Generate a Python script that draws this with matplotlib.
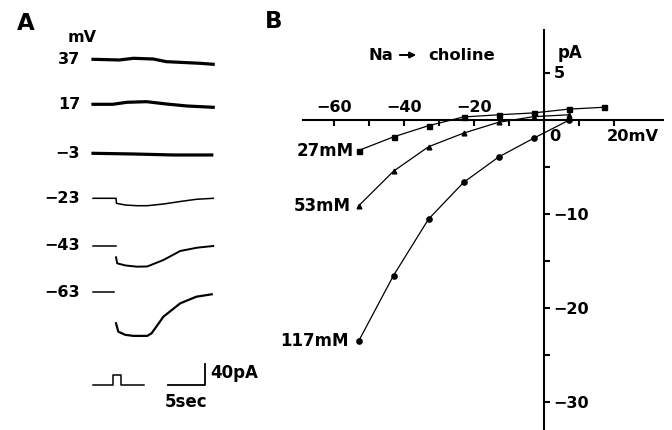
import matplotlib
matplotlib.use('Agg')
import matplotlib.pyplot as plt
from matplotlib.ticker import FixedLocator, NullFormatter

plt.rcParams['font.family'] = ['DejaVu Sans']
plt.rcParams['font.weight'] = 'bold'

# ---- panel B data: I-V relations (mV, pA) ----
voltages = [-53, -43, -33, -23, -13, -3, 7, 17]
i_27mM = [-3.3, -1.85, -0.66, 0.27, 0.5, 0.7, 1.1, 1.3]
i_53mM = [-9.2, -5.5, -2.9, -1.45, -0.3, 0.3, 0.5]
i_117mM = [-23.6, -16.6, -10.6, -6.7, -4.0, -2.0, -0.1]
curve_labels = ['27mM', '53mM', '117mM']

# ---- panel A data: current traces (time in s, current in pA) ----
hold_mV = ['37', '17', '\u22123', '\u221223', '\u221243', '\u221263']
t_37 = [0, 3.6, 5.5, 8.2, 10.0, 12.8, 14.6, 16.4]
i_37 = [0, -1.3, 1.9, 0.6, -4.5, -6.4, -7.6, -9.5]
t_17 = [0, 2.7, 4.6, 7.3, 10.0, 12.8, 16.4]
i_17 = [0, 0, 3.8, 5.0, 0.6, -3.2, -5.7]
t_m3 = [0, 5.5, 11.0, 16.2]
i_m3 = [0, -1.3, -3.2, -3.2]
t_m23 = [0, 3.14, 3.2, 4.4, 6.0, 7.4, 9.6, 11.9, 14.1, 16.4]
i_m23 = [0, 0, -9.5, -12.8, -14.1, -14.1, -10.9, -6.1, -1.9, 0]
t_m43_pre = [0, 3.1]
t_m43 = [3.14, 3.3, 4.4, 6.0, 7.4, 9.6, 11.9, 14.2, 16.4]
i_m43 = [-21.5, -33, -37, -39.4, -39, -26.7, -9.5, -3.2, 0]
t_m63_pre = [0, 2.8]
t_m63 = [3.14, 3.45, 4.4, 5.5, 7.4, 8.0, 9.6, 11.9, 14.1, 16.2]
i_m63 = [-59, -75, -81, -83, -83, -78, -46.5, -21, -8.4, -3.8]
# stimulus marker (s)
stim_t = [0, 2.77, 2.77, 3.78, 3.78, 6.9]
stim_y = [0, 0, 19, 19, 0, 0]
bar_t, bar_pA = 5, 40

# layout (pixels of the 672x430 figure)
W, H = 672, 430
PX_PER_S, PX_PER_PA = 7.33, 0.525
T0_PX = 93
base_px = [59.3, 104.3, 153.3, 198.3, 246, 292.3]
stim_base_px = 385

fig = plt.figure(figsize=(W / 100, H / 100), dpi=100)

# ---------------- panel A ----------------
axA = fig.add_axes([0, 0, 240 / W, 1])
axA.set_xlim(-T0_PX / PX_PER_S, (240 - T0_PX) / PX_PER_S)
axA.set_ylim(-H / PX_PER_PA, 0)
axA.axis('off')

def off(px):
    return -px / PX_PER_PA

axA.plot(t_37, [off(base_px[0]) + v for v in i_37], color='k', lw=2.3)
axA.plot(t_17, [off(base_px[1]) + v for v in i_17], color='k', lw=2.3)
axA.plot(t_m3, [off(base_px[2]) + v for v in i_m3], color='k', lw=2.3)
axA.plot(t_m23, [off(base_px[3]) + v for v in i_m23], color='k', lw=1.1)
axA.plot(t_m43_pre, [off(base_px[4])] * 2, color='k', lw=1.1)
axA.plot(t_m43, [off(base_px[4]) + v for v in i_m43], color='k', lw=1.4)
axA.plot(t_m63_pre, [off(base_px[5])] * 2, color='k', lw=1.1)
axA.plot(t_m63, [off(base_px[5]) + v for v in i_m63], color='k', lw=1.6)

axA.plot(stim_t, [off(stim_base_px) + v for v in stim_y], color='k', lw=1.1)
bx = (168.3 - T0_PX) / PX_PER_S
axA.plot([bx, bx + bar_t, bx + bar_t],
         [off(stim_base_px), off(stim_base_px), off(stim_base_px) + bar_pA],
         color='k', lw=1.3)

def ftext(x, y, s, **kw):
    fig.text(x / W, 1 - y / H, s, **kw)

ftext(17, 24, 'A', fontsize=16.5, va='center', ha='left')
ftext(82, 38, 'mV', fontsize=11.5, va='center', ha='center')
for lab, b in zip(hold_mV, base_px):
    ftext(80, b, lab, fontsize=11.5, va='center', ha='right')
ftext(210, 373, '40pA', fontsize=12, va='center', ha='left')
ftext(186, 402, '5sec', fontsize=12, va='center', ha='center')

# ---------------- panel B ----------------
X0_PX, Y0_PX = 544, 119.5
PX_PER_MV, PX_PER_PA_B = 3.5, 9.4
left_px, right_px, top_px = 303, 663, 29.5
ax = fig.add_axes([left_px / W, 0, (right_px - left_px) / W, (H - top_px) / H])
ax.set_xlim((left_px - X0_PX) / PX_PER_MV, (right_px - X0_PX) / PX_PER_MV)
ax.set_ylim((Y0_PX - H) / PX_PER_PA_B, (Y0_PX - top_px) / PX_PER_PA_B)
ax.patch.set_visible(False)

ax.spines['top'].set_visible(False)
ax.spines['left'].set_visible(False)
ax.spines['right'].set_position(('data', 0))
ax.spines['bottom'].set_position(('data', 0))
ax.spines['right'].set_linewidth(1.5)
ax.spines['bottom'].set_linewidth(1.5)
ax.yaxis.tick_right()

ax.xaxis.set_major_locator(FixedLocator([-60, -50, -40, -30, -20, -10, 10, 20]))
ax.xaxis.set_major_formatter(NullFormatter())
ax.tick_params(axis='x', direction='out', length=4, width=1.5)

ax.yaxis.set_major_locator(FixedLocator([5, -10, -20, -30]))
ax.yaxis.set_minor_locator(FixedLocator([-5, -15, -25]))
ax.set_yticklabels(['5', '\u221210', '\u221220', '\u221230'])
ax.tick_params(axis='y', which='both', direction='out', length=4, width=1.5,
               labelsize=11.5, pad=3)

for v in [-60, -40, -20]:
    ax.text(v, 1.3, '\u2212%d' % -v, fontsize=11.5, ha='center', va='center')
ax.text(3.2, -1.8, '0', fontsize=11.7, ha='center', va='center')
ax.text(17.9, -1.8, '20mV', fontsize=11.7, ha='left', va='center')
ftext(558, 53, 'pA', fontsize=12, ha='left', va='center')

styles = [('s', 3.6), ('^', 3.4), ('o', 3.8)]
series = [i_27mM, i_53mM, i_117mM]
label_gap = [5, 8, 10]
for cur, (mk, ms), lab, gap in zip(series, styles, curve_labels, label_gap):
    vv = voltages[:len(cur)]
    ax.plot(vv, cur, color='k', lw=0.9, marker=mk, ms=ms, clip_on=False)
    ax.annotate(lab, xy=(vv[0], cur[0]), xytext=(-gap, 0),
                textcoords='offset pixels', ha='right', va='center',
                fontsize=12)

ftext(265, 22, 'B', fontsize=16.5, va='center', ha='left')
ftext(368, 55, 'Na', fontsize=11.8, va='center', ha='left')
ftext(428, 55, 'choline', fontsize=11.8, va='center', ha='left')
fig.add_artist(matplotlib.patches.FancyArrowPatch(
    (397 / W, 1 - 55 / H), (419 / W, 1 - 55 / H), transform=fig.transFigure,
    arrowstyle='-|>', mutation_scale=9, lw=1.4, color='k'))

fig.savefig('out.png', dpi=100)
